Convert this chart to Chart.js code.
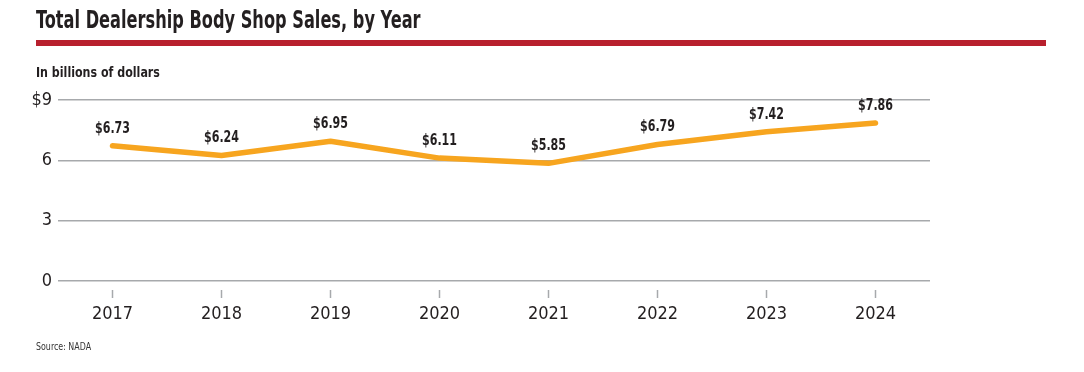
<!DOCTYPE html>
<html>
<head>
<meta charset="utf-8">
<script src="https://cdn.jsdelivr.net/npm/chart.js@4"></script>
<style>
  body { margin: 0; background: #fff; }
  #wrap { position: relative; width: 1084px; height: 372px; overflow: hidden; }
  #wrap canvas { position: absolute; left: 0; top: 0; }
  .txt { position: absolute; font-family: 'Liberation Sans Narrow', 'DejaVu Sans Condensed', sans-serif; color: #231f20; white-space: nowrap; transform-origin: left top; }
  #title { left: 36px; top: 5px; font-size: 25px; font-weight: bold; transform: scaleX(0.72); }
  #bar { position: absolute; left: 36px; top: 40px; width: 1010px; height: 6px; background: #b8202e; }
  #sub { left: 36px; top: 64px; font-size: 14px; font-weight: bold; transform: scaleX(0.88); }
  #source { left: 36px; top: 341px; font-size: 10px; color: #333; transform: scaleX(0.88); }
</style>
</head>
<body>
<div id="wrap">
  <canvas id="salesChart" width="1084" height="372"></canvas>
  <div class="txt" id="title">Total Dealership Body Shop Sales, by Year</div>
  <div id="bar"></div>
  <div class="txt" id="sub">In billions of dollars</div>
  <div class="txt" id="source">Source: NADA</div>
</div>
<script>
// Data
const years = ['2017', '2018', '2019', '2020', '2021', '2022', '2023', '2024'];
const sales = [6.73, 6.24, 6.95, 6.11, 5.85, 6.79, 7.42, 7.86];
const yTicks = [0, 3, 6, 9];

const FONT = "'Liberation Sans Narrow', 'DejaVu Sans Condensed', sans-serif";

// value labels above points + little tick marks under the axis
const labelPlugin = {
  id: 'labels',
  afterDatasetsDraw(chart) {
    const ctx = chart.ctx;
    const meta = chart.getDatasetMeta(0);
    ctx.save();
    ctx.font = 'bold 15px ' + FONT;
    ctx.fillStyle = '#231f20';
    ctx.textAlign = 'center';
    ctx.textBaseline = 'middle';
    meta.data.forEach((pt, i) => {
      ctx.save();
      ctx.translate(pt.x, pt.y - 17);
      ctx.scale(0.82, 1);
      ctx.fillText('$' + sales[i].toFixed(2), 0, 0);
      ctx.restore();
    });
    const xs = chart.scales.x;
    const bottom = chart.chartArea.bottom;
    ctx.strokeStyle = '#a7a9ac';
    ctx.lineWidth = 1.5;
    years.forEach((y, i) => {
      const x = xs.getPixelForValue(i);
      ctx.beginPath();
      ctx.moveTo(x, bottom + 9);
      ctx.lineTo(x, bottom + 17);
      ctx.stroke();
    });
    ctx.restore();
  }
};

const config = {
  type: 'line',
  data: {
    labels: years,
    datasets: [{
      data: sales,
      borderColor: '#f7a51f',
      borderWidth: 5.5,
      borderCapStyle: 'round',
      borderJoinStyle: 'round',
      pointRadius: 0,
      tension: 0,
      fill: false
    }]
  },
  options: {
    responsive: false,
    animation: false,
    layout: { padding: { left: 20, top: 100, right: 154, bottom: 41 } },
    plugins: { legend: { display: false }, tooltip: { enabled: false } },
    scales: {
      x: {
        offset: true,
        grid: { display: false },
        border: { display: false },
        ticks: { font: { family: FONT, size: 18 }, color: '#231f20', padding: 15 },
        afterFit(scale) { scale.height = 50; }
      },
      y: {
        min: 0,
        max: 9,
        afterBuildTicks(scale) { scale.ticks = yTicks.map(v => ({ value: v })); },
        grid: { color: '#a7a9ac', lineWidth: 1.5, drawTicks: false },
        border: { display: false },
        ticks: {
          font: { family: FONT, size: 18 },
          color: '#231f20',
          padding: 6,
          callback: v => (v === 9 ? '$9' : String(v))
        },
        afterFit(scale) { scale.width = 38; }
      }
    }
  },
  plugins: [labelPlugin]
};

new Chart(document.getElementById('salesChart'), config);
</script>
</body>
</html>
